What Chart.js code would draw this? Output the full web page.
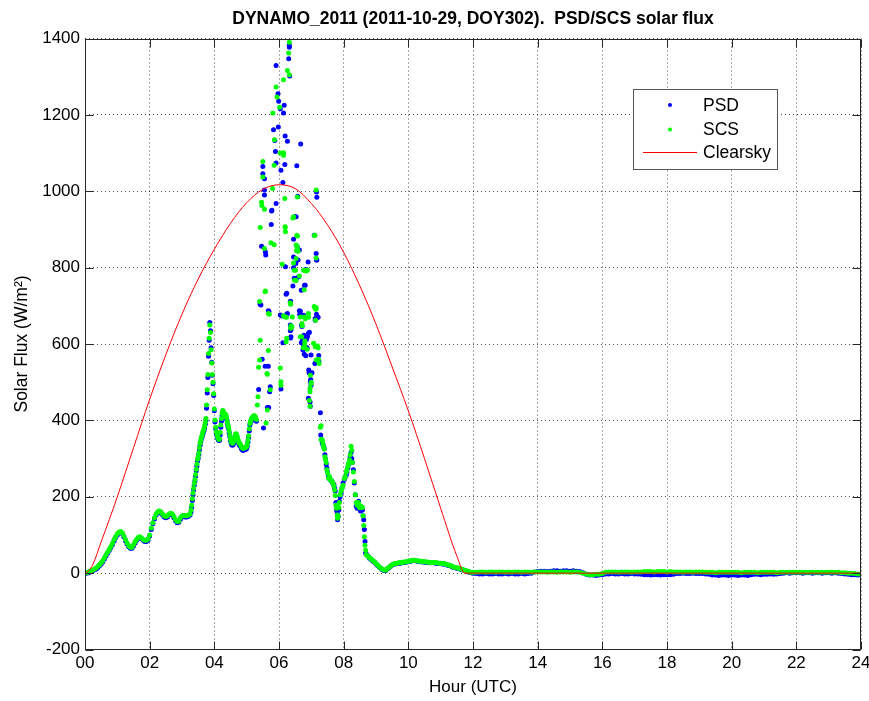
<!DOCTYPE html>
<html>
<head>
<meta charset="UTF-8">
<title>DYNAMO_2011 PSD/SCS solar flux</title>
<style>
body { margin: 0; background: #fff; }
</style>
</head>
<body>
<canvas id="fluxChart" width="869" height="701"></canvas>

<script src="https://cdn.jsdelivr.net/npm/chart.js@4.4.0/dist/chart.umd.min.js"></script>
<script>
// ---- data (W/m2 against hour UTC, 2011-10-29) ----

// early morning, every 0.05 h from 00:00
const morningPsd = [
	0, 0, 1, 3, 5, 7, 9, 11, 15, 19,
	24, 30, 37, 45, 52, 59, 67, 75, 84, 93,
	100, 105, 107, 104, 95, 85, 76, 69, 65, 65,
	71, 79, 86, 91, 93, 90, 86, 83, 83, 87,
	97, 114, 129, 142, 152, 158, 160, 157, 152, 147,
	145, 147, 152, 154, 152, 145, 137, 132, 133, 141,
	147, 148, 147, 147, 149, 152
];
const morningScs = [
	0, 1, 3, 5, 7, 9, 11, 14, 18, 22,
	27, 33, 40, 48, 55, 62, 70, 78, 88, 96,
	103, 107, 109, 106, 98, 88, 79, 72, 68, 68,
	74, 82, 89, 94, 95, 92, 88, 86, 86, 90,
	100, 118, 132, 145, 155, 161, 163, 160, 155, 150,
	148, 150, 155, 157, 155, 148, 140, 135, 136, 145,
	150, 151, 150, 150, 152, 155
];

// late morning, every 0.02 h from 03:17
const risePsd = [
	160, 172, 190, 205, 218, 230, 241, 254, 268, 280,
	293, 300, 311, 323, 335, 344, 351, 356, 363, 368,
	373, 380, 390, 400, 432, 472, 512, 568, 610, 656,
	635, 590, 552, 518, 496, 465, 425, 396, 378, 366,
	360, 354, 350, 347, 348, 362, 382, 398, 412, 420,
	420, 414, 408, 411, 410, 402, 392, 384, 378, 367,
	357, 347, 340, 336, 335, 337, 341, 347, 355, 360,
	360, 356, 349, 343, 338, 335, 333, 330, 326, 324,
	322, 322, 323, 323, 324, 325, 327, 333, 343, 355,
	372, 388, 394, 398, 402, 404, 406, 408, 408, 406,
	402, 398
];
const riseScs = [
	165, 178, 195, 210, 222, 235, 245, 258, 272, 285,
	298, 305, 315, 328, 340, 348, 355, 360, 368, 372,
	378, 385, 395, 405, 440, 480, 520, 575, 615, 650,
	630, 585, 550, 520, 500, 470, 430, 401, 382, 370,
	364, 358, 354, 350, 352, 368, 388, 405, 418, 426,
	424, 418, 412, 416, 414, 406, 396, 388, 382, 372,
	362, 352, 345, 341, 340, 342, 346, 352, 360, 365,
	364, 360, 354, 348, 342, 340, 338, 334, 331, 329,
	327, 327, 328, 328, 329, 330, 332, 338, 348, 360,
	378, 392, 398, 402, 406, 408, 410, 412, 412, 410,
	406, 402
];

// broken cloud around local noon
const psdCloudHr = [
	5.37, 5.41, 5.44, 5.46, 5.48, 5.50, 5.50, 5.52, 5.55, 5.55,
	5.55, 5.57, 5.58, 5.59, 5.64, 5.67, 5.67, 5.68, 5.69, 5.71,
	5.73, 5.76, 5.77, 5.78, 5.83, 5.87, 5.89, 5.91, 5.91, 5.91,
	5.97, 5.98, 5.99, 6.04, 6.04, 6.06, 6.06, 6.09, 6.12, 6.12,
	6.14, 6.16, 6.18, 6.19, 6.20, 6.22, 6.24, 6.24, 6.26, 6.26,
	6.30, 6.32, 6.32, 6.33, 6.35, 6.35, 6.35, 6.36, 6.36, 6.37,
	6.37, 6.37, 6.43, 6.45, 6.45, 6.45, 6.47, 6.49, 6.52, 6.53,
	6.54, 6.55, 6.56, 6.56, 6.58, 6.58, 6.59, 6.61, 6.63, 6.63,
	6.64, 6.66, 6.67, 6.69, 6.69, 6.70, 6.71, 6.72, 6.74, 6.75,
	6.76, 6.76, 6.76, 6.77, 6.78, 6.79, 6.81, 6.83, 6.83, 6.85,
	6.87, 6.88, 6.90, 6.91, 6.91, 6.92, 6.93, 6.94, 6.96, 6.97,
	6.97, 6.98, 6.98, 6.99, 6.99, 7.00, 7.02, 7.09, 7.11, 7.12,
	7.12, 7.13, 7.15, 7.16, 7.16, 7.16, 7.17, 7.17, 7.19, 7.21,
	7.23, 7.23, 7.28, 7.29
];
const psdCloud = [
	481, 705, 702, 856, 560, 1065, 1046, 380, 1033, 1003,
	990, 542, 841, 833, 434, 687, 542, 434, 685, 475,
	488, 913, 948, 950, 1161, 1133, 1104, 1329, 1074, 968,
	1255, 1168, 1236, 1216, 676, 1055, 482, 673, 1023, 603,
	1205, 1225, 1070, 1145, 802, 730, 733, 678, 1131, 680,
	1347, 1382, 1377, 1302, 711, 650, 635, 712, 616, 647,
	637, 619, 752, 874, 828, 800, 772, 933, 811, 933,
	772, 1067, 855, 844, 987, 846, 820, 776, 846, 687,
	677, 686, 1124, 741, 603, 650, 646, 610, 584, 742,
	675, 615, 595, 623, 573, 754, 754, 795, 569, 612,
	590, 619, 815, 628, 458, 532, 525, 631, 448, 501,
	437, 522, 507, 571, 492, 524, 525, 885, 549, 667,
	662, 551, 837, 998, 820, 678, 984, 820, 670, 670,
	570, 555, 420, 362
];
const scsCloudHr = [
	5.33, 5.35, 5.37, 5.40, 5.40, 5.42, 5.42, 5.46, 5.47, 5.50,
	5.50, 5.55, 5.55, 5.57, 5.58, 5.60, 5.63, 5.64, 5.64, 5.67,
	5.67, 5.70, 5.73, 5.75, 5.80, 5.81, 5.85, 5.85, 5.86, 5.91,
	5.94, 6.02, 6.04, 6.04, 6.06, 6.06, 6.10, 6.14, 6.14, 6.14,
	6.14, 6.18, 6.19, 6.19, 6.19, 6.20, 6.22, 6.23, 6.24, 6.26,
	6.30, 6.32, 6.32, 6.35, 6.35, 6.36, 6.36, 6.37, 6.38, 6.40,
	6.41, 6.43, 6.45, 6.45, 6.47, 6.48, 6.51, 6.53, 6.53, 6.53,
	6.54, 6.55, 6.56, 6.57, 6.57, 6.57, 6.59, 6.63, 6.66, 6.66,
	6.70, 6.71, 6.72, 6.75, 6.76, 6.78, 6.78, 6.79, 6.80, 6.80,
	6.81, 6.84, 6.86, 6.87, 6.88, 6.91, 6.91, 6.94, 6.96, 6.96,
	6.96, 6.97, 6.99, 7.00, 7.07, 7.09, 7.10, 7.11, 7.12, 7.12,
	7.13, 7.14, 7.15, 7.15, 7.15, 7.15, 7.19, 7.21, 7.22, 7.24,
	7.28, 7.30, 7.30
];
const scsCloud = [
	440, 462, 539, 711, 558, 905, 610, 971, 963, 1078,
	1037, 953, 850, 737, 739, 393, 523, 427, 521, 680,
	583, 678, 480, 865, 1007, 1205, 1068, 860, 1135, 1273,
	1247, 1220, 1100, 537, 501, 492, 809, 1292, 1101, 1094,
	674, 981, 905, 907, 671, 894, 606, 670, 615, 1316,
	1362, 1390, 1305, 708, 706, 704, 641, 648, 643, 645,
	671, 930, 933, 812, 793, 767, 793, 859, 824, 766,
	845, 885, 856, 985, 883, 849, 843, 778, 671, 619,
	619, 654, 648, 590, 793, 742, 671, 599, 608, 590,
	666, 791, 793, 586, 794, 680, 670, 452, 484, 475,
	437, 518, 496, 500, 602, 698, 884, 885, 693, 593,
	662, 691, 1003, 825, 695, 558, 595, 590, 560, 549,
	382, 386, 350
];

// afternoon clearing
const pmHr = [
	7.32, 7.34, 7.36, 7.38, 7.40, 7.42, 7.44, 7.46, 7.48, 7.50,
	7.53, 7.56, 7.58, 7.61, 7.64, 7.67, 7.70, 7.72, 7.74, 7.76,
	7.78, 7.80, 7.81, 7.83, 7.85, 7.87, 7.89, 7.92, 7.95, 7.98,
	8.02, 8.05, 8.08, 8.10, 8.13, 8.15, 8.18, 8.20, 8.23, 8.25,
	8.27, 8.30, 8.33, 8.36, 8.39, 8.42, 8.46, 8.49, 8.52, 8.55,
	8.58, 8.60, 8.62, 8.64, 8.66, 8.68, 8.70, 8.75
];
const pmPsd = [
	350, 340, 336, 332, 326, 310, 299, 285, 275, 265,
	253, 248, 246, 243, 240, 235, 231, 222, 215, 185,
	165, 157, 140, 148, 165, 188, 200, 210, 223, 236,
	245, 252, 257, 265, 275, 285, 297, 305, 316, 300,
	290, 271, 236, 205, 175, 170, 188, 171, 163, 173,
	165, 150, 140, 114, 83, 53, 50, 45
];
const pmScs = [
	350, 347, 338, 331, 325, 305, 297, 290, 271, 263,
	249, 253, 245, 243, 240, 236, 228, 218, 203, 178,
	170, 152, 144, 150, 172, 185, 205, 215, 223, 230,
	248, 253, 265, 271, 280, 287, 297, 310, 332, 322,
	290, 265, 240, 205, 185, 178, 185, 171, 175, 174,
	172, 150, 125, 95, 73, 60, 48, 44
];

// evening, every 0.05 h from 08:48
const tailPsd = [
	39, 36, 32, 29, 24, 20, 16, 12, 9, 7,
	7, 11, 14, 18, 21, 23, 24, 25, 26, 26,
	27, 28, 28, 29, 30, 31, 32, 33, 33, 32,
	31, 30, 30, 29, 29, 28, 28, 27, 27, 27,
	27, 26, 26, 25, 25, 24, 24, 23, 21, 20,
	19, 17, 15, 14, 13, 12, 11, 9, 8, 6,
	5, 3, 2, 1, 0
];
const tailScs = [
	40, 37, 33, 30, 25, 21, 17, 13, 10, 8,
	8, 12, 15, 19, 22, 24, 25, 26, 27, 27,
	28, 29, 29, 30, 31, 32, 33, 34, 34, 33,
	32, 31, 31, 30, 30, 29, 29, 28, 28, 28,
	28, 27, 27, 26, 26, 25, 25, 24, 22, 21,
	20, 18, 16, 15, 14, 13, 12, 10, 9, 7,
	6, 4, 3, 2, 2
];

// night, every 0.1 h from 12:06
const nightPsd = [
	-1, -2, -2, -1, -2, -2, -1, -2, -2, -1,
	-2, -1, -2, -2, -1, -2, -1, 0, 3, 4,
	5, 5, 4, 5, 6, 6, 5, 6, 6, 5,
	6, 5, 4, 1, -3, -5, -5, -6, -5, -4,
	-2, -2, -1, -2, -2, -1, -2, -2, -1, -2,
	-2, -3, -4, -4, -5, -4, -4, -5, -4, -4,
	-4, -3, -1, -1, 0, -1, -1, 0, -1, -1,
	-1, -2, -3, -5, -5, -6, -5, -5, -6, -5,
	-5, -6, -5, -5, -6, -4, -3, -3, -4, -3,
	-3, -2, -3, -2, -1, 0, 1, 0, 1, 1,
	1, 0, 1, 1, 0, 1, 1, 0, 1, 1,
	0, 1, 0, -1, -2, -3, -4, -4, -5, -4
];
const nightScs = [
	2, 3, 3, 2, 3, 3, 2, 3, 3, 2,
	3, 2, 3, 3, 2, 3, 3, 2, 3, 3,
	3, 3, 2, 3, 3, 2, 3, 3, 3, 2,
	3, 3, 2, 0, -2, -4, -4, -3, -3, -1,
	2, 3, 3, 3, 2, 3, 3, 3, 2, 3,
	3, 3, 4, 4, 4, 3, 4, 4, 4, 3,
	4, 3, 3, 3, 2, 3, 3, 2, 3, 3,
	3, 2, 2, 2, 1, 2, 2, 2, 2, 2,
	2, 2, 1, 2, 2, 2, 2, 1, 2, 2,
	2, 2, 2, 1, 2, 2, 2, 2, 2, 2,
	2, 2, 2, 2, 2, 2, 2, 2, 2, 2,
	2, 2, 2, 1, 1, 0, 0, -1, -2, -2
];

// modelled clear-sky irradiance
const clearHr = [0, 0.1, 0.25, 0.5, 0.75, 1.0, 1.5, 2.0, 2.5, 3.0, 3.5, 4.0, 4.5, 5.0, 5.5,
	6.0, 6.5, 7.0, 7.5, 8.0, 8.5, 9.0, 9.5, 10.0, 10.5, 11.0, 11.5, 11.75, 12, 24];
const clearW = [0, 5, 24, 82, 140, 200, 328, 455, 572, 678, 770, 848, 916, 970, 1005,
	1017, 1007, 968, 912, 840, 752, 652, 540, 425, 300, 170, 45, 0, 0, 0];

const hourTicks = [0, 2, 4, 6, 8, 10, 12, 14, 16, 18, 20, 22, 24];
const fluxTicks = [-200, 0, 200, 400, 600, 800, 1000, 1200, 1400];

// ---- helpers ----
function sampled(start, step, vals) {
	return vals.map(function(v, i){ return {x: +(start + i * step).toFixed(3), y: v}; });
}
function paired(hrs, vals) {
	return hrs.map(function(h, i){ return {x: h, y: vals[i]}; });
}

const psdPoints = [].concat(
	sampled(0, 0.05, morningPsd), sampled(3.28, 0.02, risePsd),
	paired(psdCloudHr, psdCloud), paired(pmHr, pmPsd),
	sampled(8.80, 0.05, tailPsd), sampled(12.1, 0.1, nightPsd));
const scsPoints = [].concat(
	sampled(0, 0.05, morningScs), sampled(3.28, 0.02, riseScs),
	paired(scsCloudHr, scsCloud), paired(pmHr, pmScs),
	sampled(8.80, 0.05, tailScs), sampled(12.1, 0.1, nightScs));
const clearPoints = paired(clearHr, clearW);

const FONT = '"Liberation Sans", Arial, Helvetica, sans-serif';
Chart.defaults.font.family = FONT;
Chart.defaults.color = '#000';

// box round the axes, with ticks pointing inwards
const axesBox = {
	id: 'axesBox',
	afterDatasetsDraw(chart) {
		const {ctx, chartArea: a, scales} = chart;
		const L = Math.round(a.left) + 0.5, R = Math.round(a.right) - 0.5;
		const T = Math.round(a.top) + 0.5, B = Math.round(a.bottom) - 0.5;
		ctx.save();
		ctx.strokeStyle = '#262626';
		ctx.lineWidth = 1;
		ctx.strokeRect(L, T, R - L, B - T);
		ctx.beginPath();
		hourTicks.forEach(function(h){
			const x = Math.round(scales.x.getPixelForValue(h)) + 0.5;
			ctx.moveTo(x, B); ctx.lineTo(x, B - 8);
			ctx.moveTo(x, T); ctx.lineTo(x, T + 8);
		});
		fluxTicks.forEach(function(v){
			const y = Math.round(scales.y.getPixelForValue(v)) + 0.5;
			ctx.moveTo(L, y); ctx.lineTo(L + 8, y);
			ctx.moveTo(R, y); ctx.lineTo(R - 8, y);
		});
		ctx.stroke();
		ctx.restore();
	}
};

// legend box in the upper right of the axes
const legendBox = {
	id: 'legendBox',
	afterDraw(chart) {
		const ctx = chart.ctx;
		const x0 = 633.5, y0 = 89.5, w = 144, h = 80;
		ctx.save();
		ctx.fillStyle = '#fff';
		ctx.fillRect(x0, y0, w, h);
		ctx.strokeStyle = '#555';
		ctx.lineWidth = 1;
		ctx.strokeRect(x0, y0, w, h);
		ctx.font = '17.5px ' + FONT;
		ctx.textBaseline = 'middle';
		ctx.textAlign = 'left';
		const rows = [
			{label: 'PSD', color: '#0000ff', y: 105},
			{label: 'SCS', color: '#00ff00', y: 129.5},
			{label: 'Clearsky', color: '#ff0000', y: 152.5, line: true}
		];
		rows.forEach(function(r){
			if (r.line) {
				ctx.strokeStyle = r.color;
				ctx.beginPath();
				ctx.moveTo(643, r.y); ctx.lineTo(697, r.y);
				ctx.stroke();
			} else {
				ctx.fillStyle = r.color;
				ctx.beginPath();
				ctx.arc(670, r.y, 2, 0, Math.PI * 2);
				ctx.fill();
			}
			ctx.fillStyle = '#000';
			ctx.fillText(r.label, 703, r.y + 1);
		});
		ctx.restore();
	}
};

const gridStyle = {color: 'rgba(0,0,0,0.7)', drawTicks: false, lineWidth: 1};

new Chart(document.getElementById('fluxChart'), {
	type: 'scatter',
	data: {
		datasets: [
			{
				label: 'Clearsky', data: clearPoints, showLine: true,
				borderColor: 'rgb(255,0,0)', borderWidth: 1, pointRadius: 0,
				cubicInterpolationMode: 'monotone', order: 0
			},
			{
				label: 'SCS', data: scsPoints, showLine: false,
				backgroundColor: '#00ff00', pointBorderWidth: 0, pointRadius: 2.5, order: 1
			},
			{
				label: 'PSD', data: psdPoints, showLine: false,
				backgroundColor: '#0000ff', pointBorderWidth: 0, pointRadius: 2.5, order: 2
			}
		]
	},
	options: {
		responsive: false,
		animation: false,
		devicePixelRatio: 1,
		layout: {padding: {left: 0, right: 8, top: 0, bottom: 0}},
		plugins: {
			legend: {display: false},
			tooltip: {enabled: false},
			title: {
				display: true,
				fullSize: false,
				text: 'DYNAMO_2011 (2011-10-29, DOY302).  PSD/SCS solar flux',
				font: {size: 17.5, weight: 'bold'},
				color: '#000',
				padding: {top: 9, bottom: 8.5}
			}
		},
		scales: {
			x: {
				type: 'linear', min: 0, max: 24,
				afterFit: function(s){ s.height = 51.5; s.paddingLeft = 0; s.paddingRight = 0; },
				ticks: {
					stepSize: 2, padding: 4, font: {size: 17}, maxRotation: 0,
					callback: function(v){ return String(v).padStart(2, '0'); }
				},
				grid: gridStyle,
				border: {display: false, dash: [1, 3]},
				title: {display: true, text: 'Hour (UTC)', font: {size: 17}, padding: {top: 0, bottom: 3}}
			},
			y: {
				min: -200, max: 1400,
				afterFit: function(s){ s.width = 85; },
				ticks: {
					stepSize: 200, padding: 5, font: {size: 17},
					callback: function(v){ return String(v); }
				},
				grid: gridStyle,
				border: {display: false, dash: [1, 3]},
				title: {display: true, text: 'Solar Flux (W/m²)', font: {size: 17.5}, padding: {top: 12, bottom: 0}}
			}
		}
	},
	plugins: [axesBox, legendBox]
});
</script>
</body>
</html>
